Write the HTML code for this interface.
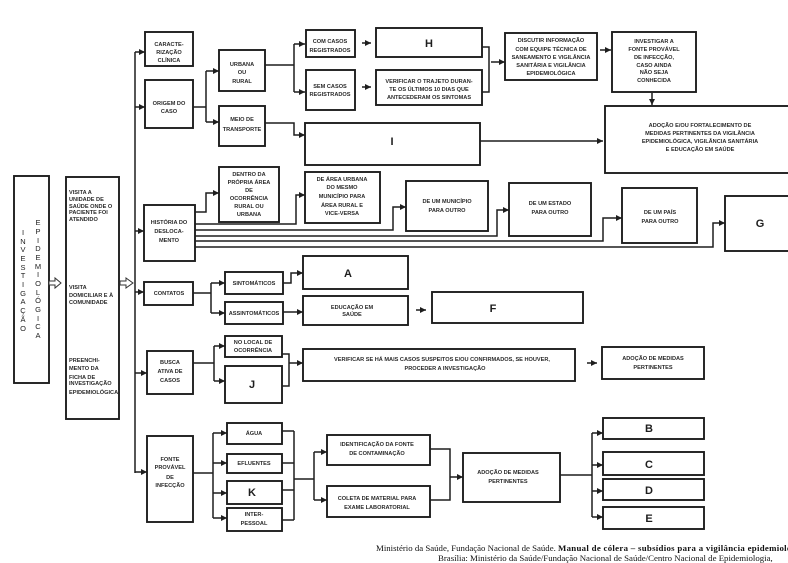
<!DOCTYPE html>
<html><head><meta charset="utf-8">
<style>
html,body{margin:0;padding:0;background:#fff;}
svg{display:block;}
.s{font-family:"Liberation Sans",sans-serif;font-weight:bold;font-size:5.6px;fill:#2a2a2a;text-anchor:middle;}
.l{font-family:"Liberation Sans",sans-serif;font-weight:bold;font-size:5.6px;fill:#2a2a2a;}
.b{font-family:"Liberation Sans",sans-serif;font-weight:bold;font-size:11px;fill:#1e1e1e;text-anchor:middle;}
.v{font-family:"Liberation Sans",sans-serif;font-size:7.5px;fill:#222;text-anchor:middle;}
.c{font-family:"Liberation Serif",serif;font-size:8.8px;fill:#111;}
rect{fill:none;stroke:#1e1e1e;stroke-width:1.9;}
path.k{fill:none;stroke:#1e1e1e;stroke-width:1.5;}
path.a{fill:none;stroke:#1e1e1e;stroke-width:1.5;marker-end:url(#m);}
</style></head>
<body>
<svg width="788" height="563" viewBox="0 0 788 563" xmlns="http://www.w3.org/2000/svg">
<defs>
<marker id="m" markerUnits="userSpaceOnUse" markerWidth="6" markerHeight="6" refX="6" refY="3" orient="auto">
<path d="M0,0 L6,3 L0,6 z" fill="#1e1e1e"/>
</marker>
</defs>

<!-- Left boxes -->
<rect x="14" y="176" width="35" height="207"/>
<g class="v">
<text x="23" y="235">I</text><text x="23" y="244">N</text><text x="23" y="252">V</text><text x="23" y="261">E</text>
<text x="23" y="270">S</text><text x="23" y="278">T</text><text x="23" y="287">I</text><text x="23" y="296">G</text>
<text x="23" y="304">A</text><text x="23" y="313">Ç</text><text x="23" y="322">Ã</text><text x="23" y="331">O</text>
<text x="38" y="225">E</text><text x="38" y="234">P</text><text x="38" y="243">I</text><text x="38" y="251">D</text>
<text x="38" y="260">E</text><text x="38" y="269">M</text><text x="38" y="277">I</text><text x="38" y="286">O</text>
<text x="38" y="295">L</text><text x="38" y="303">Ó</text><text x="38" y="312">G</text><text x="38" y="321">I</text>
<text x="38" y="329">C</text><text x="38" y="338">A</text>
</g>
<polygon points="49,281 55,281 55,278 61,283 55,288 55,285 49,285" fill="#fff" stroke="#333" stroke-width="1"/>
<rect x="66" y="177" width="53" height="242"/>
<g class="l">
<text x="69" y="194">VISITA A</text><text x="69" y="201">UNIDADE DE</text><text x="69" y="208">SAÚDE ONDE O</text>
<text x="69" y="214">PACIENTE FOI</text><text x="69" y="221">ATENDIDO</text>
<text x="69" y="289">VISITA</text><text x="69" y="297">DOMICILIAR E À</text><text x="69" y="304">COMUNIDADE</text>
<text x="69" y="362">PREENCHI-</text><text x="69" y="370">MENTO DA</text><text x="69" y="379">FICHA DE</text>
<text x="69" y="385">INVESTIGAÇÃO</text><text x="69" y="394">EPIDEMIOLÓGICA</text>
</g>
<polygon points="120,281 126,281 126,278 133,283 126,288 126,285 120,285" fill="#fff" stroke="#333" stroke-width="1"/>

<!-- bus -->
<path class="k" d="M135,52 V473"/>
<path class="a" d="M135,52 H145"/>
<path class="a" d="M135,107 H145"/>
<path class="a" d="M135,231 H144"/>
<path class="a" d="M135,292 H144"/>
<path class="a" d="M135,373 H147"/>
<path class="a" d="M135,472 H147"/>

<!-- Top section -->
<rect x="145" y="32" width="48" height="34"/>
<text class="s" x="169" y="46">CARACTE-</text><text class="s" x="169" y="54">RIZAÇÃO</text><text class="s" x="169" y="62">CLÍNICA</text>
<rect x="145" y="80" width="48" height="48"/>
<text class="s" x="169" y="105">ORIGEM DO</text><text class="s" x="169" y="113">CASO</text>
<path class="k" d="M193,107 H206 M206,71 V122"/>
<path class="a" d="M206,71 H219"/><path class="a" d="M206,122 H219"/>
<rect x="219" y="50" width="46" height="41"/>
<text class="s" x="242" y="66">URBANA</text><text class="s" x="242" y="74">OU</text><text class="s" x="242" y="83">RURAL</text>
<rect x="219" y="106" width="46" height="40"/>
<text class="s" x="242" y="121">MEIO DE</text><text class="s" x="242" y="131">TRANSPORTE</text>
<path class="k" d="M265,65 H294 M294,44 V92"/>
<path class="a" d="M294,44 H305"/><path class="a" d="M294,92 H305"/>
<path class="a" d="M265,123 H294 V135 H305"/>
<rect x="306" y="30" width="49" height="27"/>
<text class="s" x="330" y="43">COM CASOS</text><text class="s" x="330" y="52">REGISTRADOS</text>
<rect x="306" y="70" width="49" height="40"/>
<text class="s" x="330" y="88">SEM CASOS</text><text class="s" x="330" y="96">REGISTRADOS</text>
<path class="a" d="M362,43 H371"/><path class="a" d="M362,87 H371"/>
<rect x="376" y="28" width="106" height="29"/>
<text class="b" x="429" y="47">H</text>
<rect x="376" y="70" width="106" height="35"/>
<text class="s" x="429" y="83">VERIFICAR O TRAJETO DURAN-</text><text class="s" x="429" y="91">TE OS ÚLTIMOS 10 DIAS QUE</text><text class="s" x="429" y="99">ANTECEDERAM OS SINTOMAS</text>
<path class="k" d="M482,47 H489 V92 H482"/>
<path class="a" d="M491,62 H505"/>
<rect x="505" y="33" width="92" height="47"/>
<text class="s" x="551" y="42">DISCUTIR INFORMAÇÃO</text><text class="s" x="551" y="51">COM EQUIPE TÉCNICA DE</text>
<text class="s" x="551" y="59">SANEAMENTO E VIGILÂNCIA</text><text class="s" x="551" y="67">SANITÁRIA E VIGILÂNCIA</text>
<text class="s" x="551" y="75">EPIDEMIOLÓGICA</text>
<path class="a" d="M600,50 H611"/>
<rect x="612" y="32" width="84" height="60"/>
<text class="s" x="654" y="43">INVESTIGAR A</text><text class="s" x="654" y="51">FONTE PROVÁVEL</text><text class="s" x="654" y="59">DE INFECÇÃO,</text>
<text class="s" x="654" y="67">CASO AINDA</text><text class="s" x="654" y="74">NÃO SEJA</text><text class="s" x="654" y="82">CONHECIDA</text>
<path class="a" d="M652,93 V105"/>
<rect x="605" y="106" width="195" height="67"/>
<text class="s" x="700" y="127">ADOÇÃO E/OU FORTALECIMENTO DE</text><text class="s" x="700" y="135">MEDIDAS PERTINENTES DA VIGILÂNCIA</text>
<text class="s" x="700" y="143">EPIDEMIOLÓGICA, VIGILÂNCIA SANITÁRIA</text><text class="s" x="700" y="151">E EDUCAÇÃO EM SAÚDE</text>
<rect x="305" y="123" width="175" height="42"/>
<text class="b" x="392" y="145">I</text>
<path class="a" d="M480,141 H603"/>

<!-- Historia -->
<rect x="144" y="205" width="51" height="56"/>
<text class="s" x="169" y="224">HISTÓRIA DO</text><text class="s" x="169" y="233">DESLOCA-</text><text class="s" x="169" y="242">MENTO</text>
<path class="a" d="M195,212 H206 V193 H219"/>
<path class="a" d="M195,224 H296 V195 H305"/>
<path class="a" d="M195,230 H393 V207 H406"/>
<path class="a" d="M195,236 H497 V210 H509"/>
<path class="a" d="M195,241 H603 V218 H622"/>
<path class="a" d="M195,247 H713 V223 H725"/>
<rect x="219" y="167" width="60" height="55"/>
<text class="s" x="249" y="176">DENTRO DA</text><text class="s" x="249" y="184">PRÓPRIA ÁREA</text><text class="s" x="249" y="192">DE</text>
<text class="s" x="249" y="200">OCORRÊNCIA</text><text class="s" x="249" y="208">RURAL OU</text><text class="s" x="249" y="216">URBANA</text>
<rect x="305" y="172" width="75" height="51"/>
<text class="s" x="342" y="181">DE ÁREA URBANA</text><text class="s" x="342" y="189">DO MESMO</text><text class="s" x="342" y="198">MUNICÍPIO PARA</text>
<text class="s" x="342" y="207">ÁREA RURAL E</text><text class="s" x="342" y="215">VICE-VERSA</text>
<rect x="406" y="181" width="82" height="50"/>
<text class="s" x="447" y="203">DE UM MUNICÍPIO</text><text class="s" x="447" y="212">PARA OUTRO</text>
<rect x="509" y="183" width="82" height="53"/>
<text class="s" x="550" y="205">DE UM ESTADO</text><text class="s" x="550" y="214">PARA OUTRO</text>
<rect x="622" y="188" width="75" height="55"/>
<text class="s" x="660" y="214">DE UM PAÍS</text><text class="s" x="660" y="223">PARA OUTRO</text>
<rect x="725" y="196" width="75" height="55"/>
<text class="b" x="760" y="227">G</text>

<!-- Contatos -->
<rect x="144" y="282" width="49" height="23"/>
<text class="s" x="169" y="295">CONTATOS</text>
<path class="k" d="M193,293 H211 M211,283 V313"/>
<path class="a" d="M211,283 H225"/><path class="a" d="M211,313 H225"/>
<rect x="225" y="272" width="58" height="22"/>
<text class="s" x="254" y="285">SINTOMÁTICOS</text>
<rect x="225" y="302" width="58" height="22"/>
<text class="s" x="254" y="315">ASSINTOMÁTICOS</text>
<path class="a" d="M283,283 H291 V273 H303"/>
<path class="a" d="M283,312 H303"/>
<rect x="303" y="256" width="105" height="33"/>
<text class="b" x="348" y="277">A</text>
<rect x="303" y="296" width="105" height="29"/>
<text class="s" x="352" y="309">EDUCAÇÃO EM</text><text class="s" x="352" y="316">SAÚDE</text>
<path class="a" d="M416,310 H426"/>
<rect x="432" y="292" width="151" height="31"/>
<text class="b" x="493" y="312">F</text>

<!-- Busca -->
<rect x="147" y="351" width="46" height="43"/>
<text class="s" x="170" y="364">BUSCA</text><text class="s" x="170" y="373">ATIVA DE</text><text class="s" x="170" y="382">CASOS</text>
<path class="k" d="M193,363 H214 M214,346 V381"/>
<path class="a" d="M214,346 H225"/><path class="a" d="M214,381 H225"/>
<rect x="225" y="336" width="57" height="21"/>
<text class="s" x="253" y="344">NO LOCAL DE</text><text class="s" x="253" y="352">OCORRÊNCIA</text>
<rect x="225" y="366" width="57" height="37"/>
<text class="b" x="252" y="388">J</text>
<path class="k" d="M282,354 H289 V386 H282"/>
<path class="a" d="M289,363 H303"/>
<rect x="303" y="349" width="272" height="32"/>
<text class="s" x="442" y="361">VERIFICAR SE HÁ MAIS CASOS SUSPEITOS E/OU CONFIRMADOS, SE HOUVER,</text>
<text class="s" x="445" y="370">PROCEDER A INVESTIGAÇÃO</text>
<path class="a" d="M587,363 H597"/>
<rect x="602" y="347" width="102" height="32"/>
<text class="s" x="653" y="360">ADOÇÃO DE MEDIDAS</text><text class="s" x="653" y="369">PERTINENTES</text>

<!-- Fonte -->
<rect x="147" y="436" width="46" height="86"/>
<text class="s" x="170" y="461">FONTE</text><text class="s" x="170" y="469">PROVÁVEL</text><text class="s" x="170" y="479">DE</text><text class="s" x="170" y="487">INFECÇÃO</text>
<path class="k" d="M193,473 H213 M213,433 V518"/>
<path class="a" d="M213,433 H227"/><path class="a" d="M213,463 H227"/><path class="a" d="M213,493 H227"/><path class="a" d="M213,518 H227"/>
<rect x="227" y="423" width="55" height="21"/>
<text class="s" x="254" y="435">ÁGUA</text>
<rect x="227" y="454" width="55" height="19"/>
<text class="s" x="254" y="465">EFLUENTES</text>
<rect x="227" y="481" width="55" height="23"/>
<text class="b" x="252" y="496">K</text>
<rect x="227" y="508" width="55" height="23"/>
<text class="s" x="254" y="516">INTER-</text><text class="s" x="254" y="525">PESSOAL</text>
<path class="k" d="M282,431 H294 M282,463 H294 M282,490 H294 M282,520 H294 M294,431 V520 M294,479 H314 M314,452 V500"/>
<path class="a" d="M314,452 H327"/><path class="a" d="M314,500 H327"/>
<rect x="327" y="435" width="103" height="30"/>
<text class="s" x="377" y="446">IDENTIFICAÇÃO DA FONTE</text><text class="s" x="377" y="455">DE CONTAMINAÇÃO</text>
<rect x="327" y="486" width="103" height="31"/>
<text class="s" x="377" y="500">COLETA DE MATERIAL PARA</text><text class="s" x="377" y="509">EXAME LABORATORIAL</text>
<path class="k" d="M430,449 H450 V500 H430"/>
<path class="a" d="M450,477 H463"/>
<rect x="463" y="453" width="97" height="49"/>
<text class="s" x="508" y="474">ADOÇÃO DE MEDIDAS</text><text class="s" x="508" y="483">PERTINENTES</text>
<path class="k" d="M560,475 H592 M592,433 V517"/>
<path class="a" d="M592,433 H603"/><path class="a" d="M592,465 H603"/><path class="a" d="M592,491 H603"/><path class="a" d="M592,517 H603"/>
<rect x="603" y="418" width="101" height="21"/>
<text class="b" x="649" y="432">B</text>
<rect x="603" y="452" width="101" height="23"/>
<text class="b" x="649" y="468">C</text>
<rect x="603" y="479" width="101" height="21"/>
<text class="b" x="649" y="494">D</text>
<rect x="603" y="507" width="101" height="22"/>
<text class="b" x="649" y="522">E</text>

<!-- citation -->
<text class="c" x="376" y="551">Ministério da Saúde, Fundação Nacional de Saúde. <tspan font-weight="bold" letter-spacing="0.3">Manual de cólera – subsídios para a vigilância epidemiológica</tspan></text>
<text class="c" x="438" y="561">Brasília: Ministério da Saúde/Fundação Nacional de Saúde/Centro Nacional de Epidemiologia,</text>
</svg>
</body></html>
